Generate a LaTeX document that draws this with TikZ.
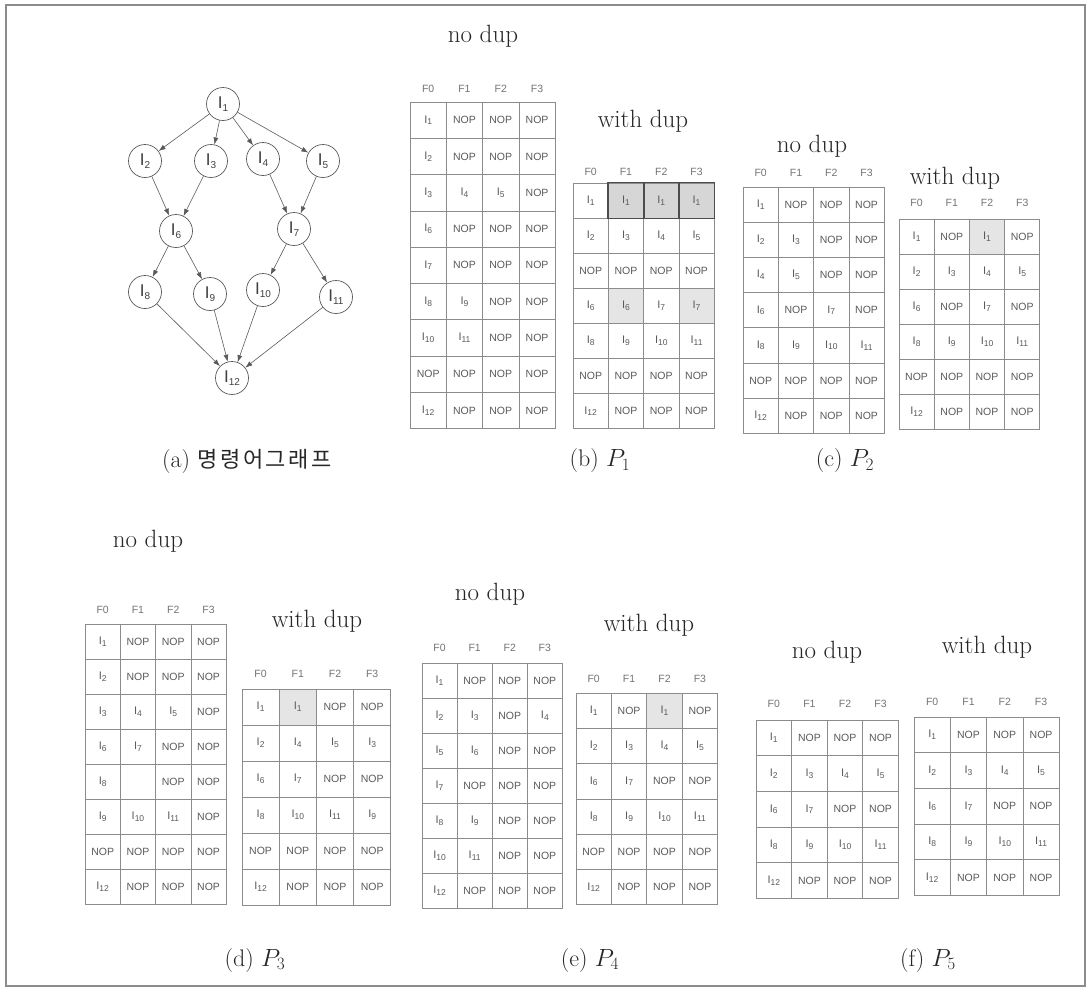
\documentclass[tikz,border=0pt]{standalone}
\usepackage{fontspec}
\setsansfont{Liberation Sans}
\newfontfamily\krfont[LetterSpace=12]{Noto Sans CJK KR}
\usetikzlibrary{arrows.meta,backgrounds}
\definecolor{gridcol}{gray}{0.55}
\definecolor{txtcol}{gray}{0.35}
\definecolor{hdrcol}{gray}{0.45}
\definecolor{framecol}{gray}{0.55}
\definecolor{shadedark}{gray}{0.84}
\definecolor{shadelight}{gray}{0.9}
\newcommand\II[1]{{\fontsize{11}{11}\selectfont I}\raisebox{-0.3ex}{\fontsize{8.5}{8.5}\selectfont #1}}
\newcommand\GI[1]{{\fontsize{17}{17}\selectfont I}\raisebox{-0.6ex}{\fontsize{10}{10}\selectfont #1}}
\newcommand\gtable[7]{%
  \foreach \hh [count=\cc] in {F0,F1,F2,F3}
    \node[hdr] (#1-h\cc) at ({#2+(\cc-0.5)*#4},#6) {\hh};
  \foreach \row [count=\rr] in {#7}{%
    \foreach \cell [count=\cc] in \row {%
      \node[cell,minimum width=#4pt,minimum height=#5pt] (#1-\rr-\cc)
        at ({#2+(\cc-0.5)*#4},{#3+(\rr-0.5)*#5}) {\cell};
    }%
  }%
}
\begin{document}
\begin{tikzpicture}[x=1pt,y=-1pt,
  cell/.style={draw=gridcol,line width=0.7pt,inner sep=0pt,text=txtcol,
    font=\sffamily\fontsize{10.5}{12}\selectfont},
  hdr/.style={inner sep=0pt,text=hdrcol,font=\sffamily\fontsize{10.5}{12}\selectfont},
  lbl/.style={inner sep=0pt,font=\fontsize{25}{28}\selectfont,text=black!85},
  captext/.style={inner sep=0pt,font=\fontsize{24}{28}\selectfont,text=black!85},
  gnode/.style={circle,draw=black!65,line width=0.7pt,minimum size=33pt,inner sep=0pt,
    font=\sffamily,text=black!75},
  garrow/.style={draw=black!65,line width=0.6pt,-{Latex[length=7pt,width=5pt]}},
  darkcell/.style={draw=black!70,line width=1.4pt},
  ]
\useasboundingbox (0,0) rectangle (1089,989);
\draw[framecol,line width=1.2pt] (6,5) rectangle (1085,986);

% graph (a)
\node[gnode] (g1) at (223,104) {\GI{1}};
\node[gnode] (g2) at (145,161) {\GI{2}};
\node[gnode] (g3) at (211,161) {\GI{3}};
\node[gnode] (g4) at (263,159) {\GI{4}};
\node[gnode] (g5) at (323,161) {\GI{5}};
\node[gnode] (g6) at (176,231) {\GI{6}};
\node[gnode] (g7) at (294,229) {\GI{7}};
\node[gnode] (g8) at (145,292) {\GI{8}};
\node[gnode] (g9) at (210,294) {\GI{9}};
\node[gnode] (g10) at (263,290) {\GI{10}};
\node[gnode] (g11) at (336,297) {\GI{11}};
\node[gnode] (g12) at (232,378) {\GI{12}};
\foreach \a/\b in {g1/g2,g1/g3,g1/g4,g1/g5,g2/g6,g3/g6,g4/g7,g5/g7,
  g6/g8,g6/g9,g7/g10,g7/g11,g8/g12,g9/g12,g10/g12,g11/g12}
  \draw[garrow] (\a) -- (\b);

% labels
\node[lbl] (lbn) at (483,36) {no dup};
\node[lbl] (lbw) at (643,121) {with dup};
\node[lbl] (lcn) at (812,146) {no dup};
\node[lbl] (lcw) at (955,178) {with dup};
\node[lbl] (ldn) at (148,541) {no dup};
\node[lbl] (ldw) at (317,621) {with dup};
\node[lbl] (len) at (490,594) {no dup};
\node[lbl] (lew) at (649,625) {with dup};
\node[lbl] (lfn) at (827,652) {no dup};
\node[lbl] (lfw) at (987,647) {with dup};

% captions
\node[captext] (ca) at (247,461) {(a) {\krfont\fontsize{22}{26}\selectfont 명령어그래프}};
\node[captext] (cb) at (600,461) {(b) $P_1$};
\node[captext] (cc) at (845,461) {(c) $P_2$};
\node[captext] (cd) at (255,960) {(d) $P_3$};
\node[captext] (ce) at (590,960) {(e) $P_4$};
\node[captext] (cf) at (928,960) {(f) $P_5$};

% tables
\gtable{bn}{410}{102}{36.3}{36.3}{89}{%
  {\II{1},NOP,NOP,NOP},{\II{2},NOP,NOP,NOP},{\II{3},\II{4},\II{5},NOP},
  {\II{6},NOP,NOP,NOP},{\II{7},NOP,NOP,NOP},{\II{8},\II{9},NOP,NOP},
  {\II{10},\II{11},NOP,NOP},{NOP,NOP,NOP,NOP},{\II{12},NOP,NOP,NOP}}
\gtable{bw}{573}{183}{35.3}{35.1}{172}{%
  {\II{1},\II{1},\II{1},\II{1}},{\II{2},\II{3},\II{4},\II{5}},{NOP,NOP,NOP,NOP},
  {\II{6},\II{6},\II{7},\II{7}},{\II{8},\II{9},\II{10},\II{11}},
  {NOP,NOP,NOP,NOP},{\II{12},NOP,NOP,NOP}}
\gtable{cn}{743}{187}{35.3}{35.2}{173}{%
  {\II{1},NOP,NOP,NOP},{\II{2},\II{3},NOP,NOP},{\II{4},\II{5},NOP,NOP},
  {\II{6},NOP,\II{7},NOP},{\II{8},\II{9},\II{10},\II{11}},
  {NOP,NOP,NOP,NOP},{\II{12},NOP,NOP,NOP}}
\gtable{cw}{899}{219}{35.2}{35}{203}{%
  {\II{1},NOP,\II{1},NOP},{\II{2},\II{3},\II{4},\II{5}},{\II{6},NOP,\II{7},NOP},
  {\II{8},\II{9},\II{10},\II{11}},{NOP,NOP,NOP,NOP},{\II{12},NOP,NOP,NOP}}
\gtable{dn}{85}{624}{35.3}{35}{610}{%
  {\II{1},NOP,NOP,NOP},{\II{2},NOP,NOP,NOP},{\II{3},\II{4},\II{5},NOP},
  {\II{6},\II{7},NOP,NOP},{\II{8},{},NOP,NOP},{\II{9},\II{10},\II{11},NOP},
  {NOP,NOP,NOP,NOP},{\II{12},NOP,NOP,NOP}}
\gtable{dw}{242}{689}{37.2}{36}{674}{%
  {\II{1},\II{1},NOP,NOP},{\II{2},\II{4},\II{5},\II{3}},{\II{6},\II{7},NOP,NOP},
  {\II{8},\II{10},\II{11},\II{9}},{NOP,NOP,NOP,NOP},{\II{12},NOP,NOP,NOP}}
\gtable{en}{422}{663}{35.1}{35}{648}{%
  {\II{1},NOP,NOP,NOP},{\II{2},\II{3},NOP,\II{4}},{\II{5},\II{6},NOP,NOP},
  {\II{7},NOP,NOP,NOP},{\II{8},\II{9},NOP,NOP},{\II{10},\II{11},NOP,NOP},
  {\II{12},NOP,NOP,NOP}}
\gtable{ew}{576}{693}{35.4}{35.3}{679}{%
  {\II{1},NOP,\II{1},NOP},{\II{2},\II{3},\II{4},\II{5}},{\II{6},\II{7},NOP,NOP},
  {\II{8},\II{9},\II{10},\II{11}},{NOP,NOP,NOP,NOP},{\II{12},NOP,NOP,NOP}}
\gtable{fn}{756}{720}{35.6}{35.7}{704}{%
  {\II{1},NOP,NOP,NOP},{\II{2},\II{3},\II{4},\II{5}},{\II{6},\II{7},NOP,NOP},
  {\II{8},\II{9},\II{10},\II{11}},{\II{12},NOP,NOP,NOP}}
\gtable{fw}{914}{717}{36.3}{35.7}{702}{%
  {\II{1},NOP,NOP,NOP},{\II{2},\II{3},\II{4},\II{5}},{\II{6},\II{7},NOP,NOP},
  {\II{8},\II{9},\II{10},\II{11}},{\II{12},NOP,NOP,NOP}}

% shading
\begin{scope}[on background layer]
  \foreach \n in {bw-1-2,bw-1-3,bw-1-4}
    \fill[shadedark] (\n.south west) rectangle (\n.north east);
  \foreach \n in {bw-4-2,bw-4-4,cw-1-3,dw-1-2,ew-1-3}
    \fill[shadelight] (\n.south west) rectangle (\n.north east);
\end{scope}
\foreach \n in {bw-1-2,bw-1-3,bw-1-4}
  \draw[darkcell] (\n.south west) rectangle (\n.north east);
\end{tikzpicture}
\end{document}
